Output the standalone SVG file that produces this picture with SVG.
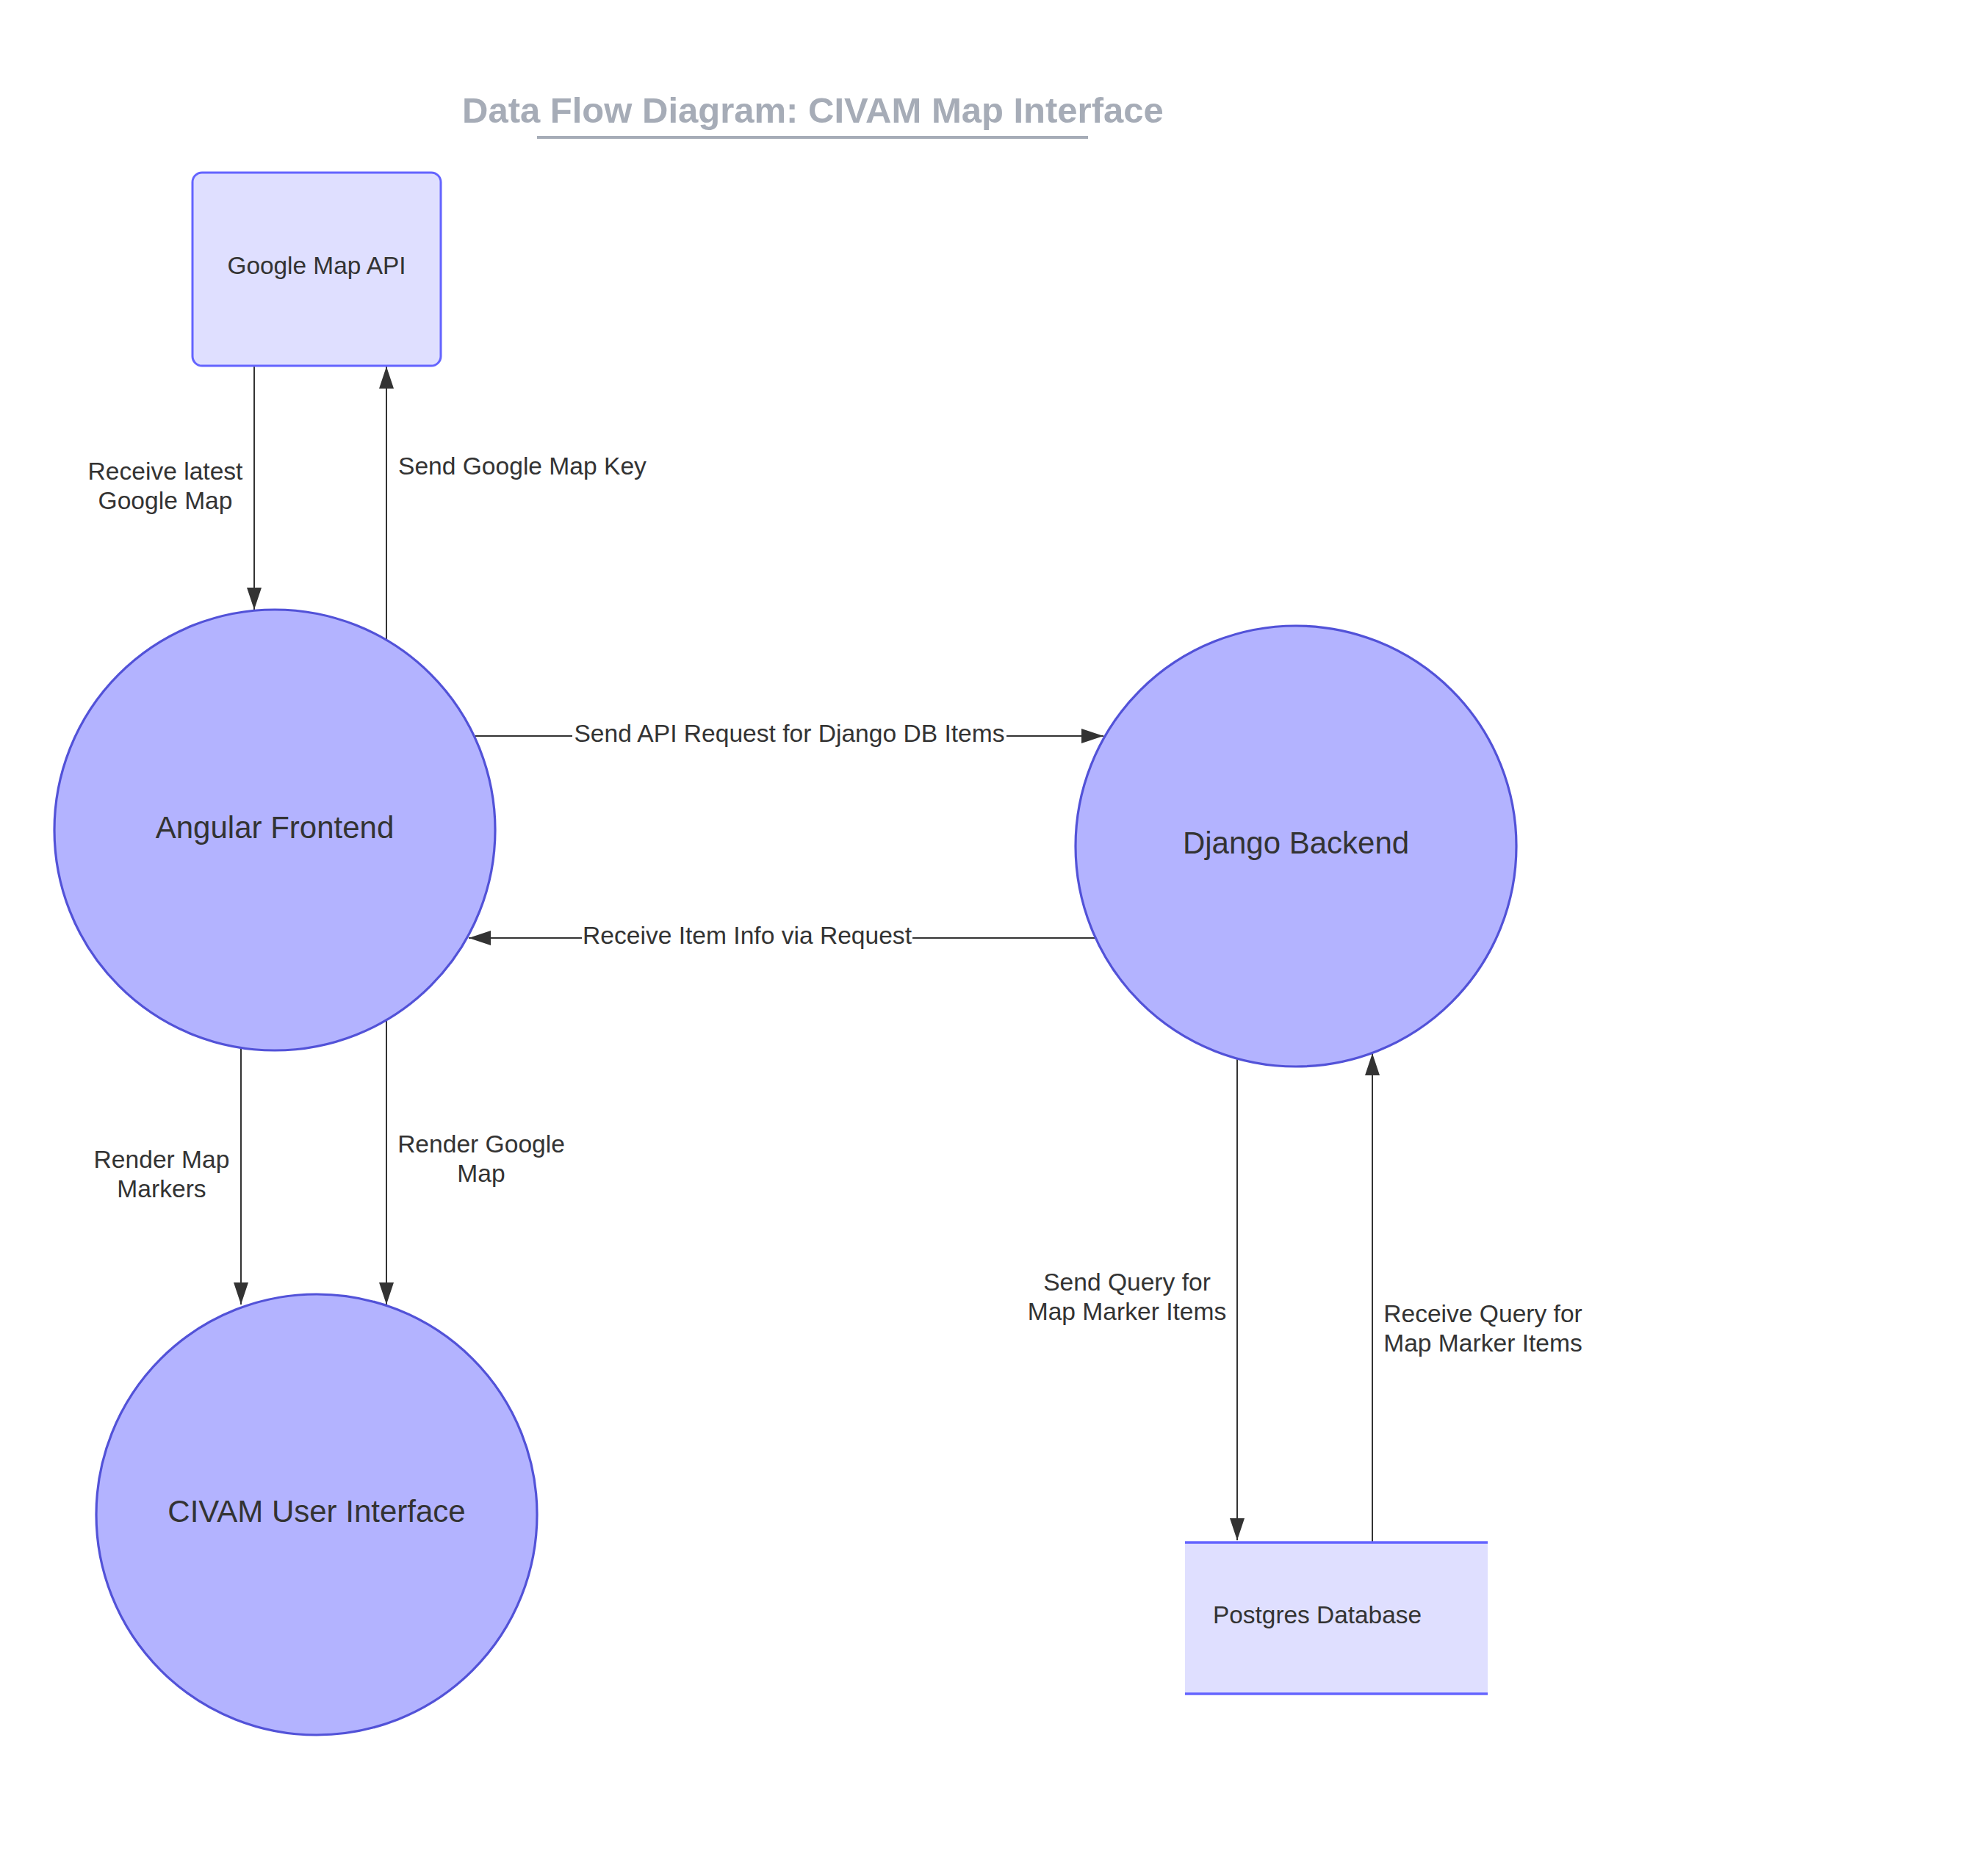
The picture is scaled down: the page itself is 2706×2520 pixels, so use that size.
<svg xmlns="http://www.w3.org/2000/svg" width="2706" height="2520" viewBox="0 0 2706 2520">
<style>
  .bg { fill: #ffffff; }
  .title { font-family: "Liberation Sans", Arial, sans-serif; font-weight: bold; font-size: 49px; fill: #A6ACB7; }
  .box { fill: #DFDFFF; stroke: #6464FF; stroke-width: 3; }
  .store { fill: #DFDFFF; stroke: none; }
  .storeline { stroke: #6464FF; stroke-width: 3.5; }
  .proc { fill: #B3B3FF; stroke: #5252D8; stroke-width: 3.2; }
  .ntext { font-family: "Liberation Sans", Arial, sans-serif; font-size: 33.4px; fill: #333333; }
  .ptext { font-family: "Liberation Sans", Arial, sans-serif; font-size: 42px; fill: #333333; text-anchor: middle; }
  .edge { stroke: #333333; stroke-width: 2; fill: none; marker-end: url(#arrow); }
  .ltext { font-family: "Liberation Sans", Arial, sans-serif; font-size: 33.6px; fill: #333333; }
  .mid { text-anchor: middle; }
  .lbg { fill: #ffffff; }
</style>
<defs>
  <marker id="arrow" markerUnits="userSpaceOnUse" markerWidth="30" markerHeight="20" refX="30" refY="10" orient="auto">
    <path d="M0,0 L30,10 L0,20 Z" fill="#333333"/>
  </marker>
</defs>
<rect class="bg" x="0" y="0" width="2706" height="2520"/>

<g id="title">
  <text class="title" x="629" y="167">Data Flow Diagram: CIVAM Map Interface</text>
  <rect x="731" y="185" width="750" height="4" fill="#A6ACB7"/>
</g>

<g id="connectors">
  <path class="edge" d="M346,498 L346,830"/>
  <text class="ltext mid" x="225" y="653">Receive latest</text>
  <text class="ltext mid" x="225" y="693">Google Map</text>

  <path class="edge" d="M526,871 L526,499"/>
  <text class="ltext" x="542" y="646">Send Google Map Key</text>

  <path class="edge" d="M647,1002 L1502,1002"/>
  <rect class="lbg" x="779" y="984" width="591" height="36"/>
  <text class="ltext mid" x="1074.5" y="1010">Send API Request for Django DB Items</text>

  <path class="edge" d="M1491,1277 L638,1277"/>
  <rect class="lbg" x="792" y="1259" width="450" height="36"/>
  <text class="ltext mid" x="1017" y="1285">Receive Item Info via Request</text>

  <path class="edge" d="M328,1426 L328,1776"/>
  <text class="ltext mid" x="220" y="1590">Render Map</text>
  <text class="ltext mid" x="220" y="1630">Markers</text>

  <path class="edge" d="M526,1388 L526,1776"/>
  <text class="ltext mid" x="655" y="1569">Render Google</text>
  <text class="ltext mid" x="655" y="1609">Map</text>

  <path class="edge" d="M1684,1441 L1684,2097"/>
  <text class="ltext mid" x="1534" y="1757">Send Query for</text>
  <text class="ltext mid" x="1534" y="1797">Map Marker Items</text>

  <path class="edge" d="M1868,2100 L1868,1434"/>
  <text class="ltext mid" x="2018.5" y="1800">Receive Query for</text>
  <text class="ltext mid" x="2018.5" y="1840">Map Marker Items</text>
</g>

<g id="google-map-api">
  <rect class="box" x="262" y="235" width="338" height="263" rx="13" ry="13"/>
  <text class="ntext" x="431" y="373" text-anchor="middle">Google Map API</text>
</g>

<g id="angular-frontend">
  <circle class="proc" cx="374" cy="1130" r="300"/>
  <text class="ptext" x="374" y="1141">Angular Frontend</text>
</g>

<g id="django-backend">
  <circle class="proc" cx="1764" cy="1152" r="300"/>
  <text class="ptext" x="1764" y="1162">Django Backend</text>
</g>

<g id="civam-user-interface">
  <circle class="proc" cx="431" cy="2062" r="300"/>
  <text class="ptext" x="431" y="2072">CIVAM User Interface</text>
</g>

<g id="postgres-database">
  <rect class="store" x="1613" y="2100" width="412" height="206"/>
  <line class="storeline" x1="1613" y1="2100" x2="2025" y2="2100"/>
  <line class="storeline" x1="1613" y1="2306" x2="2025" y2="2306"/>
  <text class="ntext" x="1651" y="2210">Postgres Database</text>
</g>
</svg>
